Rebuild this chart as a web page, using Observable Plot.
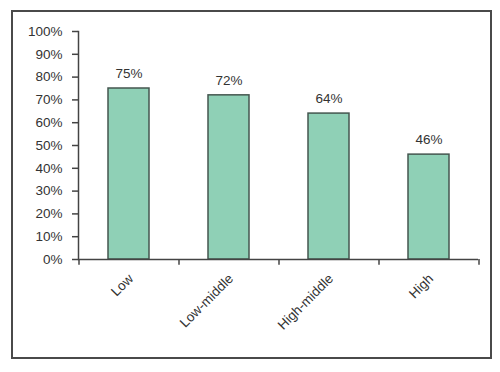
<!DOCTYPE html>
<html>
<head>
<meta charset="utf-8">
<script src="https://cdn.jsdelivr.net/npm/d3@7"></script>
<script src="https://cdn.jsdelivr.net/npm/@observablehq/plot@0.6"></script>
<style>
  body { margin: 0; background: #fff; }
  #wrap { position: relative; width: 500px; height: 372px; }
  #frame { position: absolute; left: 11px; top: 10px; width: 477px; height: 345px; border: 2px solid #4a4a4a; box-sizing: content-box; pointer-events: none; }
  #chart { position: absolute; left: 0; top: 0; }
</style>
</head>
<body>
<div id="wrap">
  <div id="chart"></div>
  <div id="frame"></div>
</div>
<script>
const categories = ["Low", "Low-middle", "High-middle", "High"];
const values = [0.75, 0.72, 0.64, 0.46];
const yTicks = [0, 0.1, 0.2, 0.3, 0.4, 0.5, 0.6, 0.7, 0.8, 0.9, 1.0];

const data = categories.map((c, i) => ({category: c, value: values[i]}));
const boundaryTicks = categories.map(c => ({category: c}));
const lastTick = [{category: categories[categories.length - 1]}];

const font = "'Liberation Sans', Arial, Helvetica, sans-serif";
const ink = "#333";

const chart = Plot.plot({
  width: 500,
  height: 372,
  marginLeft: 78,
  marginRight: 22,
  marginTop: 31,
  marginBottom: 113,
  style: {fontFamily: font, fontSize: "13.5px", color: ink, background: "transparent"},
  x: {domain: categories, paddingInner: 0.59, paddingOuter: 0.295, label: null},
  y: {domain: [0, 1], label: null},
  marks: [
    Plot.barY(data, {x: "category", y: "value", fill: "#8fd0b6", stroke: "#44564f", strokeWidth: 1.5}),
    Plot.text(data, {x: "category", y: "value", text: d => Math.round(d.value * 100) + "%", dy: -14.5, fontSize: 13.5, fill: ink}),
    Plot.axisY({ticks: yTicks, tickFormat: d => Math.round(d * 100) + "%", tickSize: 6, tickPadding: 10, stroke: "#444", strokeWidth: 1.5, fontSize: 13.5, fill: ink}),
    Plot.frame({anchor: "left", stroke: "#444", strokeWidth: 1.5}),
    Plot.ruleY([0], {stroke: "#444", strokeWidth: 1.5}),
    Plot.axisX({tickSize: 0, tickRotate: -45, tickPadding: 17, dx: 2, fontSize: 13.5, fill: ink}),
    Plot.ruleX(boundaryTicks, {x: "category", dx: -50, y1: 0, y2: -0.025, stroke: "#444", strokeWidth: 1.5}),
    Plot.ruleX(lastTick, {x: "category", dx: 50, y1: 0, y2: -0.025, stroke: "#444", strokeWidth: 1.5})
  ]
});
document.getElementById("chart").appendChild(chart);
</script>
</body>
</html>
